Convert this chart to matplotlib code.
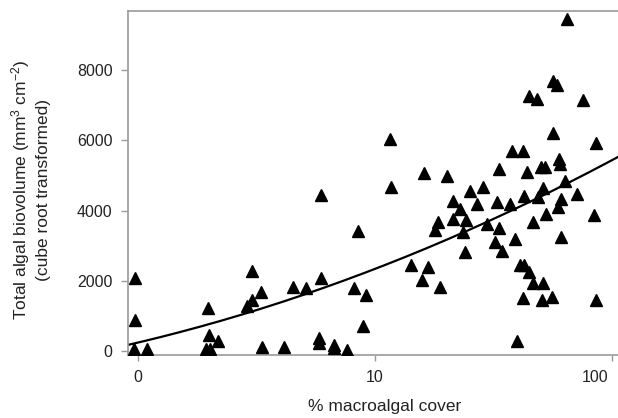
import matplotlib
matplotlib.use('Agg')
import matplotlib.pyplot as plt
import matplotlib.transforms as mtransforms
import numpy as np

plt.rcParams['font.family'] = ['Liberation Sans', 'DejaVu Sans']
plt.rcParams['mathtext.fontset'] = 'custom'
plt.rcParams['mathtext.rm'] = 'Liberation Sans'
plt.rcParams['mathtext.it'] = 'Liberation Sans:italic'

# x is on the log axis scale (0 -> "0", 1 -> "10", 2 -> "100")
log_cover = [
    -0.017, 0.040, -0.013, -0.013, 0.287, 0.304, 0.295, 0.301, 0.338, 0.480,
    0.519, 0.483, 0.459, 0.522, 0.616, 0.653, 0.709, 0.774, 0.771, 0.930,
    0.913, 0.960, 0.951, 0.764, 0.764, 0.828, 0.828, 0.880, 1.065, 1.068,
    1.151, 1.225, 1.197, 1.273, 1.208, 1.303, 1.266, 1.253, 1.328, 1.384,
    1.327, 1.359, 1.373, 1.380, 1.401, 1.454, 1.432, 1.514, 1.570, 1.471,
    1.523, 1.506, 1.535, 1.591, 1.522, 1.578, 1.626, 1.640, 1.700, 1.717,
    1.630, 1.689, 1.710, 1.668, 1.722, 1.802, 1.776, 1.781, 1.751, 1.932,
    1.878, 1.650, 1.682, 1.752, 1.767, 1.810, 1.785, 1.773, 1.851, 1.925,
    1.785, 1.610, 1.627, 1.649, 1.668, 1.710, 1.624, 1.703, 1.747, 1.934,
    1.599,
]
biovolume = [
    57, 57, 884, 2083, 57, 57, 1213, 456, 294, 2282,
    1692, 1455, 1270, 123, 123, 1834, 1789, 2068, 4451, 3424,
    1797, 1583, 713, 371, 214, 185, 77, 29, 6034, 4687,
    2454, 2405, 2011, 1834, 5070, 5001, 3680, 3452, 3766, 3737,
    4280, 4051, 3404, 2816, 4565, 4687, 4194, 4237, 4202, 3609,
    3509, 3096, 2862, 3181, 5184, 5686, 5686, 5107, 5230, 5230,
    4422, 4402, 4642, 3672, 3894, 4850, 5478, 5335, 6211, 5926,
    7161, 7255, 7181, 7703, 7589, 9463, 4322, 4117, 4471, 3889,
    3261, 2454, 2454, 2262, 1931, 1931, 1512, 1464, 1549, 1446,
    285,
]

# fitted trend (quadratic on the plotted scale)
fit_coef = [240, 1600, 500]

x_ticks = [0, 1, 2]
x_tick_labels = ['0', '10', '100']
y_ticks = [0, 2000, 4000, 6000, 8000]

fig = plt.figure(figsize=(6.18, 4.18), dpi=100)
ax = fig.add_axes([128 / 618, 1 - 354.5 / 418, 1 - 128 / 618, (354.5 - 11) / 418])

ax.plot(log_cover, biovolume, linestyle='none', marker='^', markersize=8.3,
        color='black', zorder=3)

xs = np.linspace(-0.05, 2.1, 200)
ax.plot(xs, fit_coef[0] + fit_coef[1] * xs + fit_coef[2] * xs ** 2,
        color='black', linewidth=1.6, zorder=2)

ax.set_xlim(-0.042, 2.025)
ax.set_ylim(-100, 9690)
ax.set_xticks(x_ticks)
ax.set_xticklabels(x_tick_labels)
ax.set_yticks(y_ticks)

for s in ['left', 'bottom', 'top']:
    ax.spines[s].set_color('#9a9a9a')
    ax.spines[s].set_linewidth(1.2)
ax.spines['right'].set_visible(False)

ax.tick_params(axis='y', length=5, width=1, color='#9a9a9a', pad=6,
               labelsize=11.5, labelcolor='#222222')
ax.tick_params(axis='x', length=4, width=1, color='#9a9a9a', pad=7,
               labelsize=11.5, labelcolor='#222222')

# last label sits at the picture edge, pull it in
last = ax.get_xticklabels()[-1]
last.set_horizontalalignment('right')
last.set_transform(last.get_transform() + mtransforms.ScaledTranslation(-3 / 72, 0, fig.dpi_scale_trans))

fig.text(30 / 618, 1 - 190 / 418,
         'Total algal biovolume (mm$^{3}$ cm$^{-2}$)\n(cube root transformed)',
         rotation=90, ha='center', va='center', fontsize=12.5,
         linespacing=1.35, color='#222222')
fig.text(385 / 618, 1 - 406 / 418, '% macroalgal cover', ha='center',
         va='center', fontsize=12.5, color='#222222')

fig.savefig('out.png', dpi=100)
